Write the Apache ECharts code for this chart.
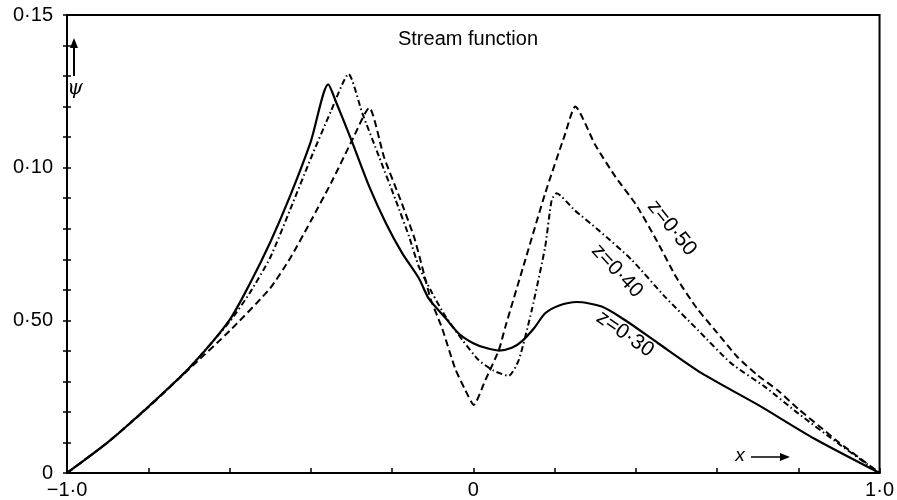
<!DOCTYPE html>
<html>
<head>
<meta charset="utf-8">
<script src="https://cdn.jsdelivr.net/npm/echarts@6/dist/echarts.min.js"></script>
<style>
  html, body { margin: 0; padding: 0; background: #fff; }
  #main { width: 897px; height: 500px; }
</style>
</head>
<body>
<div id="main"></div>
<script>
// z = 0.30 (solid)
var z30X = [-1, -0.9, -0.8, -0.7, -0.6, -0.55, -0.5, -0.45, -0.4, -0.357, -0.338, -0.3, -0.256, -0.215, -0.175, -0.134, -0.109, -0.07, -0.036, 0, 0.03, 0.063, 0.095, 0.12, 0.15, 0.177, 0.21, 0.255, 0.316, 0.373, 0.455, 0.562, 0.701, 0.84, 1];
var z30Y = [0, 0.010, 0.0217, 0.0343, 0.0501, 0.062, 0.0755, 0.091, 0.1085, 0.1273, 0.1216, 0.109, 0.0938, 0.0818, 0.072, 0.0638, 0.0570, 0.051, 0.0457, 0.0425, 0.0410, 0.0401, 0.0410, 0.0432, 0.0475, 0.0523, 0.0548, 0.0560, 0.0545, 0.0501, 0.0425, 0.0327, 0.0223, 0.0112, 0];

// z = 0.40 (dash-dot)
var z40X = [-1, -0.9, -0.8, -0.7, -0.6, -0.55, -0.5, -0.45, -0.4, -0.35, -0.307, -0.273, -0.232, -0.191, -0.158, -0.134, -0.101, -0.068, -0.027, 0.013, 0.05, 0.087, 0.112, 0.144, 0.177, 0.193, 0.205, 0.25, 0.308, 0.39, 0.472, 0.553, 0.635, 0.717, 0.8, 0.9, 1];
var z40Y = [0, 0.010, 0.0217, 0.0343, 0.0495, 0.059, 0.0705, 0.0865, 0.103, 0.1186, 0.1307, 0.1178, 0.1036, 0.0894, 0.0774, 0.0676, 0.0589, 0.0512, 0.0436, 0.037, 0.0335, 0.0318, 0.037, 0.0534, 0.0741, 0.0894, 0.0916, 0.086, 0.0796, 0.0698, 0.0577, 0.0468, 0.0359, 0.0283, 0.0195, 0.0095, 0];

// z = 0.50 (dashed)
var z50X = [-1, -0.9, -0.8, -0.7, -0.6, -0.5, -0.45, -0.4, -0.35, -0.3, -0.256, -0.22, -0.179, -0.146, -0.126, -0.105, -0.077, -0.044, -0.019, 0.001, 0.03, 0.063, 0.079, 0.128, 0.177, 0.226, 0.251, 0.3, 0.35, 0.4, 0.45, 0.5, 0.55, 0.6, 0.65, 0.7, 0.75, 0.8, 0.85, 0.9, 0.95, 1];
var z50Y = [0, 0.010, 0.0215, 0.034, 0.0465, 0.0605, 0.0705, 0.0825, 0.095, 0.1085, 0.1196, 0.1036, 0.0894, 0.0774, 0.0676, 0.057, 0.0475, 0.034, 0.027, 0.0223, 0.0305, 0.0403, 0.0479, 0.0698, 0.0916, 0.111, 0.120, 0.1075, 0.097, 0.088, 0.0765, 0.064, 0.054, 0.046, 0.038, 0.032, 0.027, 0.021, 0.0155, 0.010, 0.005, 0];

// tick labels as printed
var xTickLabels = { '-1.00': '\u22121\u00b70', '0.00': '0', '1.00': '1\u00b70' };
var yTickLabels = { '0.00': '0', '0.05': '0\u00b750', '0.10': '0\u00b710', '0.15': '0\u00b715' };

var curveLabels = ['z=0\u00b730', 'z=0\u00b740', 'z=0\u00b750'];

function pairs(xs, ys) {
  var out = [];
  for (var i = 0; i < xs.length; i++) out.push([xs[i], ys[i]]);
  return out;
}

var FONT = 'Liberation Sans, Arial, sans-serif';
var chart = echarts.init(document.getElementById('main'), null, { renderer: 'canvas' });

var option = {
  backgroundColor: '#ffffff',
  animation: false,
  grid: {
    left: 67, right: 15, top: 15, bottom: 27,
    show: true, borderColor: '#000', borderWidth: 2, backgroundColor: 'transparent'
  },
  xAxis: {
    type: 'value', min: -1, max: 1, interval: 0.2,
    axisLine: { show: true, onZero: false, lineStyle: { color: '#000', width: 2 } },
    axisTick: { show: true, inside: true, length: 5, lineStyle: { color: '#000', width: 1.5 } },
    splitLine: { show: false },
    axisLabel: {
      color: '#000', fontSize: 20, fontFamily: FONT, margin: 7,
      showMinLabel: true, showMaxLabel: true, hideOverlap: false,
      formatter: function (v) { return xTickLabels[(Math.abs(v) < 1e-9 ? 0 : v).toFixed(2)] || ''; }
    }
  },
  yAxis: [{
    type: 'value', min: 0, max: 0.15, interval: 0.01,
    axisLine: { show: true, onZero: false, lineStyle: { color: '#000', width: 2 } },
    axisTick: { show: true, inside: true, length: 4, lineStyle: { color: '#000', width: 1.5 } },
    splitLine: { show: false },
    axisLabel: {
      color: '#000', fontSize: 20, fontFamily: FONT, margin: 14,
      showMinLabel: true, showMaxLabel: true, hideOverlap: false,
      formatter: function (v) { return yTickLabels[(Math.abs(v) < 1e-9 ? 0 : v).toFixed(2)] || ''; }
    }
  }, {
    // outer half of the crossing ticks
    type: 'value', min: 0, max: 0.15, interval: 0.01, position: 'left',
    axisLine: { show: false, onZero: false },
    axisTick: { show: true, inside: false, length: 4, lineStyle: { color: '#000', width: 1.5 } },
    axisLabel: { show: false },
    splitLine: { show: false }
  }],
  series: [{
    name: curveLabels[0], type: 'line', data: pairs(z30X, z30Y), smooth: 0.25,
    symbol: 'none', lineStyle: { color: '#000', width: 2.2, type: 'solid' }
  }, {
    name: curveLabels[1], type: 'line', data: pairs(z40X, z40Y), smooth: 0.2,
    symbol: 'none', lineStyle: { color: '#000', width: 2, type: [6, 3, 1.5, 3] }
  }, {
    name: curveLabels[2], type: 'line', data: pairs(z50X, z50Y), smooth: 0.2,
    symbol: 'none', lineStyle: { color: '#000', width: 2, type: [7, 4] }
  }],
  graphic: [
    { type: 'text', x: 468, y: 39, style: { text: 'Stream function', fill: '#000', font: '20px ' + FONT, textAlign: 'center', textVerticalAlign: 'middle' } },
    // psi with upward arrow
    { type: 'line', shape: { x1: 74, y1: 76, x2: 74, y2: 46 }, style: { stroke: '#000', lineWidth: 2 } },
    { type: 'polygon', shape: { points: [[74, 38], [70, 48], [78, 48]] }, style: { fill: '#000' } },
    { type: 'text', x: 75, y: 89, style: { text: '\u03c8', fill: '#000', font: 'italic 20px DejaVu Serif, serif', textAlign: 'center', textVerticalAlign: 'middle' } },
    // x with right arrow
    { type: 'text', x: 740, y: 456, style: { text: 'x', fill: '#000', font: 'italic 19px ' + FONT, textAlign: 'center', textVerticalAlign: 'middle' } },
    { type: 'line', shape: { x1: 751, y1: 457, x2: 782, y2: 457 }, style: { stroke: '#000', lineWidth: 1.5 } },
    { type: 'polygon', shape: { points: [[790, 457], [780, 453], [780, 461]] }, style: { fill: '#000' } },
    // curve labels
    { type: 'text', x: 672, y: 228, rotation: -51 * Math.PI / 180, style: { text: curveLabels[2], fill: '#000', font: '21px ' + FONT, textAlign: 'center', textVerticalAlign: 'middle' } },
    { type: 'text', x: 617, y: 271, rotation: -47 * Math.PI / 180, style: { text: curveLabels[1], fill: '#000', font: '21px ' + FONT, textAlign: 'center', textVerticalAlign: 'middle' } },
    { type: 'text', x: 625, y: 334, rotation: -35 * Math.PI / 180, style: { text: curveLabels[0], fill: '#000', font: '21px ' + FONT, textAlign: 'center', textVerticalAlign: 'middle' } }
  ]
};

chart.setOption(option);
</script>
</body>
</html>
